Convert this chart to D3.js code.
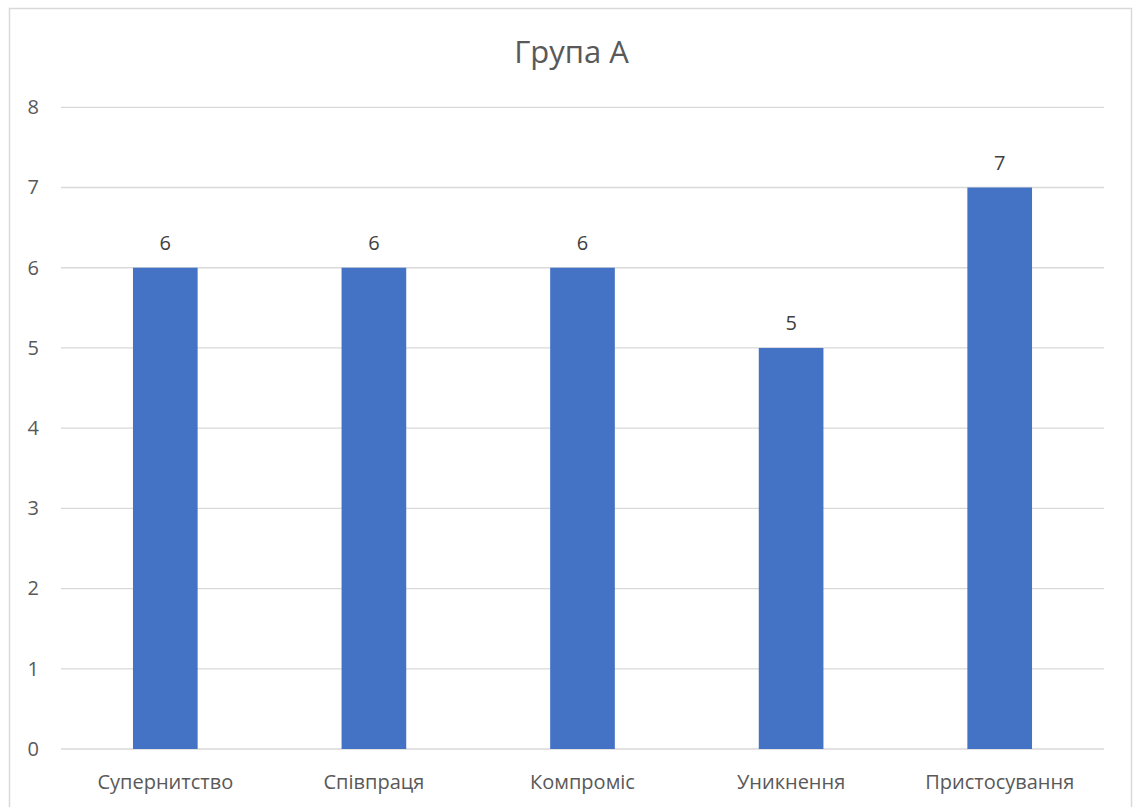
<!DOCTYPE html>
<html><head><meta charset="utf-8">
<script src="https://cdn.jsdelivr.net/npm/d3@7"></script>
<style>body{margin:0;background:#fff;} svg{display:block;}</style>
</head><body>
<svg id="chart" width="1133" height="807"></svg>
<script>
const title = "Група А";
const categories = ["Супернитство", "Співпраця", "Компроміс", "Уникнення", "Пристосування"];
const values = [6, 6, 6, 5, 7];
const yTicks = [0, 1, 2, 3, 4, 5, 6, 7, 8];

const svg = d3.select("#chart");
const font = "'Open Sans', 'Liberation Sans', sans-serif";
const textColor = "#595959";

// chart border
svg.append("rect").attr("x", 9.5).attr("y", 8.5).attr("width", 1122).attr("height", 820)
  .attr("fill", "#fff").attr("stroke", "#d9d9d9").attr("stroke-width", 1.5);

const plotLeft = 61, plotRight = 1104, plotTop = 107.3, plotBottom = 749;
const x = d3.scaleBand().domain(categories).range([plotLeft, plotRight]).paddingInner(0.69).paddingOuter(0.345);
const y = d3.scaleLinear().domain([0, 8]).range([plotBottom, plotTop]);

// gridlines
svg.append("g").selectAll("line").data(yTicks).join("line")
  .attr("x1", plotLeft).attr("x2", plotRight)
  .attr("y1", d => y(d)).attr("y2", d => y(d))
  .attr("stroke", "#d9d9d9").attr("stroke-width", 1.3);

// y axis labels
const yAxis = d3.axisLeft(y).tickValues(yTicks).tickSize(0).tickPadding(0).tickFormat(d3.format("d"));
const gy = svg.append("g").attr("transform", `translate(39,0)`).call(yAxis);
gy.select(".domain").remove();
gy.selectAll("text").attr("font-family", font).attr("font-size", 20).attr("fill", textColor);

// bars
svg.append("g").selectAll("rect").data(values).join("rect")
  .attr("x", (d, i) => x(categories[i]))
  .attr("width", x.bandwidth())
  .attr("y", d => y(d))
  .attr("height", d => y(0) - y(d))
  .attr("fill", "#4472c4");

// data labels
svg.append("g").selectAll("text").data(values).join("text")
  .attr("x", (d, i) => x(categories[i]) + x.bandwidth() / 2)
  .attr("y", d => y(d) - 17.5)
  .attr("text-anchor", "middle")
  .attr("font-family", font).attr("font-size", 20).attr("fill", "#404040")
  .text(d => d);

// x axis labels
const xAxis = d3.axisBottom(x).tickSize(0).tickPadding(0);
const gx = svg.append("g").attr("transform", `translate(0,${plotBottom})`).call(xAxis);
gx.select(".domain").remove();
gx.selectAll("text").attr("dy", null).attr("y", 40)
  .attr("font-family", font).attr("font-size", 20).attr("fill", textColor);

// title
svg.append("text").attr("x", 571.5).attr("y", 63)
  .attr("text-anchor", "middle").attr("font-family", font).attr("font-size", 31)
  .attr("fill", textColor).text(title);
</script>
</body></html>
